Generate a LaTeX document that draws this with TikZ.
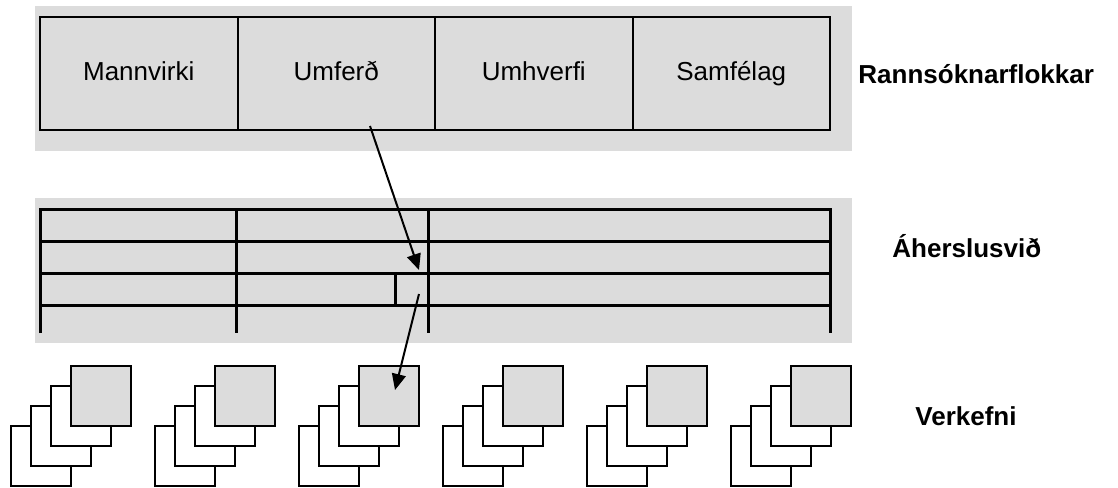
\documentclass[tikz,border=0pt]{standalone}
\usepackage{fontspec}
\setmainfont{Liberation Sans}
\usetikzlibrary{arrows.meta}
\definecolor{bandgray}{HTML}{DCDCDC}
\tikzset{
    flokkur/.style={draw, line width=1pt, fill=bandgray, minimum width=98.75pt, minimum height=56.5pt, inner sep=0pt, text height=0.73em, text depth=0pt},
    heiti/.style={anchor=base west, font=\fontsize{13}{15.6}\selectfont\bfseries, inner sep=0pt},
    blad/.style={draw, line width=1pt, fill=white, minimum size=30pt, inner sep=0pt},
    tafla/.style={line width=1.5pt},
    ör/.style={-{Triangle[length=8pt,width=7pt]}, line width=1pt}
}
\begin{document}
\begin{tikzpicture}[x=0.5pt, y=-0.5pt, font=\fontsize{13}{15.6}\selectfont]
    \useasboundingbox (0,0) rectangle (1118,487);

    % the grey bands
    \fill[bandgray] (35,6) rectangle (852,151);
    \fill[bandgray] (35,198) rectangle (852,343);

    % the research categories
    \node[flokkur] (mannvirki) at (138.75,73.5) {Mannvirki};
    \node[flokkur] (umferd) at (336.25,73.5) {Umferð};
    \node[flokkur] (umhverfi) at (533.75,73.5) {Umhverfi};
    \node[flokkur] (samfelag) at (731.25,73.5) {Samfélag};

    % the table of focus areas
    \draw[tafla] (40,333) -- (40,209) -- (830,209) -- (830,333);
    \draw[tafla] (40,241) -- (830,241);
    \draw[tafla] (40,273) -- (830,273);
    \draw[tafla] (40,305) -- (830,305);
    \draw[tafla] (236,209) -- (236,333);
    \draw[tafla] (428,209) -- (428,333);
    \node[draw, line width=1.5pt, minimum width=16.5pt, minimum height=16pt, inner sep=0pt] (reitur) at (411.5,289) {};

    % the projects (stacks of sheets)
    \foreach \x/\n in {11/1,155/2,299/3,443/4,587/5,731/6} {
        \node[blad] (v\n a) at (\x+30,456) {};
        \node[blad] (v\n b) at (\x+50,436) {};
        \node[blad] (v\n c) at (\x+70,416) {};
        \node[blad, fill=bandgray] (v\n) at (\x+90,396) {};
    }

    % the texts on the right
    \node[heiti] (rannsokn) at (858,83) {Rannsóknarflokkar};
    \node[heiti] (aherslur) at (892,257) {Áherslusvið};
    \node[heiti] (verkefni) at (915,425) {Verkefni};

    % the arrows
    \coordinate (a1) at (370,126);
    \coordinate (a2) at (419,270);
    \coordinate (b1) at (419,294);
    \coordinate (b2) at (395,390);
    \draw[ör] (a1) -- (a2);
    \draw[ör] (b1) -- (b2);
\end{tikzpicture}
\end{document}
